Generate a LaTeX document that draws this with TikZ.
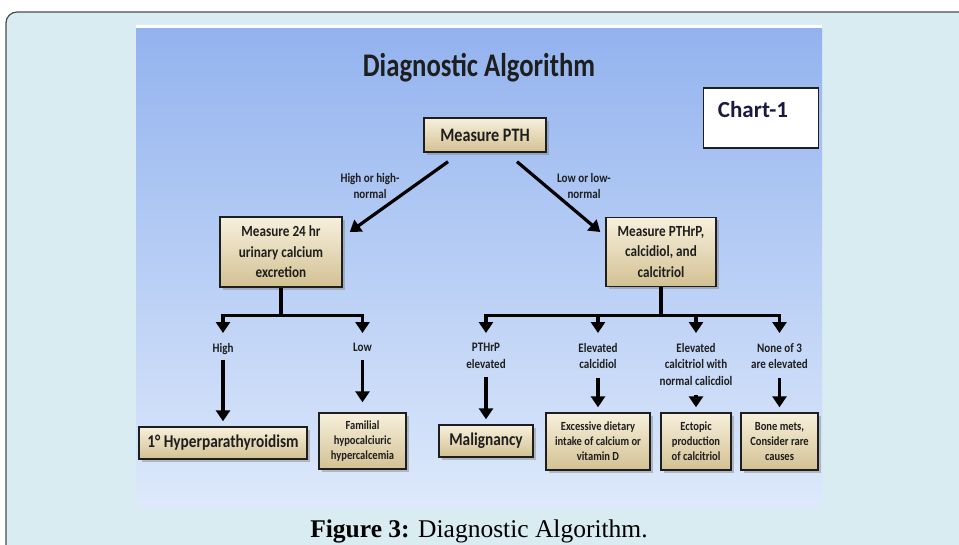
\documentclass[tikz,border=0pt]{standalone}
\usepackage{fontspec}
\usetikzlibrary{arrows.meta,shadows}
\newfontfamily\chartfont[FakeStretch=0.85]{Carlito}
\newfontfamily\titlefont[FakeStretch=0.81]{Carlito}
\newfontfamily\tagfont{Carlito}
\newfontfamily\capfont{Liberation Serif}
\definecolor{framebg}{HTML}{D8ECF2}
\definecolor{skytop}{HTML}{93B3EF}
\definecolor{skybot}{HTML}{DDE9FB}
\definecolor{boxtop}{HTML}{F7F0DC}
\definecolor{boxbot}{HTML}{D3C193}
\definecolor{ink}{HTML}{1E1E1E}
\definecolor{navy}{HTML}{1A1A40}
\begin{document}
\begin{tikzpicture}[x=1pt, y=-1pt,
      every node/.style={text=ink, align=center, inner sep=0pt},
      stepbox/.style={draw=ink, line width=1.4pt, top color=boxtop, bottom color=boxbot,
        drop shadow={shadow xshift=2.5pt, shadow yshift=-2.5pt, opacity=0.45}},
      bigtext/.style={font=\chartfont\bfseries\fontsize{15.5}{20.5}\selectfont},
      smalltext/.style={font=\chartfont\bfseries\fontsize{12.4}{15}\selectfont},
      endtext/.style={font=\chartfont\bfseries\fontsize{18}{22}\selectfont},
      cond/.style={anchor=north, font=\chartfont\bfseries\fontsize{13}{16.5}\selectfont},
      arr/.style={line width=3.2pt, -{Triangle[width=14pt,length=11pt]}},
      fork/.style={line width=3.2pt}]
      \useasboundingbox (0,0) rectangle (959,544);
      \clip (0,0) rectangle (959,544);
      \draw[fill=framebg, draw=ink!80, line width=1.2pt, rounded corners=11pt] (6,12) rectangle (990,580);
      \fill[white] (136,25) rectangle (822,28);
      \shade[top color=skytop, bottom color=skybot] (136,28) rectangle (822,507);

      \node[anchor=base, font=\titlefont\bfseries\fontsize{33}{38}\selectfont] (title) at (479,76) {Diagnostic Algorithm};
      \node[draw=ink, line width=1.5pt, fill=white, minimum width=115pt, minimum height=60pt] (chartbox) at (761,118) {};
      \node[anchor=west, text=navy, font=\tagfont\bfseries\fontsize{23}{27}\selectfont] (chart) at ([xshift=15pt, yshift=-22pt]chartbox.north west) {Chart-1};

      \node[stepbox, font=\chartfont\bfseries\fontsize{19}{23}\selectfont, minimum width=122pt, minimum height=34pt] (pth) at (485,135) {Measure PTH};
      \node[stepbox, bigtext, minimum width=122pt, minimum height=70pt] (urine) at (281,252) {Measure 24 hr\\urinary calcium\\excretion};
      \node[stepbox, bigtext, minimum width=110pt, minimum height=69pt] (rel) at (661,252) {Measure PTHrP,\\calcidiol, and\\calcitriol};

      \node[cond] (hi) at (370,173) {High or high-\\normal};
      \node[cond] (lo) at (584,173) {Low or low-\\normal};

      \node[cond] (high) at (223,343) {High};
      \node[cond] (low) at (362.5,343) {Low};
      \node[cond] (pe) at (486,343) {PTHrP\\elevated};
      \node[cond] (ecd) at (598,343) {Elevated\\calcidiol};
      \node[cond] (ect) at (696,343) {Elevated\\calcitriol with\\normal calicdiol};
      \node[cond] (none) at (779.5,343) {None of 3\\are elevated};

      \node[stepbox, endtext, minimum width=168pt, minimum height=32pt] (hyper) at (223,443) {1° Hyperparathyroidism};
      \node[stepbox, smalltext, minimum width=87pt, minimum height=56pt] (fhh) at (362.5,441) {Familial\\hypocalciuric\\hypercalcemia};
      \node[stepbox, endtext, minimum width=94pt, minimum height=32pt] (malig) at (486,441) {Malignancy};
      \node[stepbox, smalltext, minimum width=104pt, minimum height=57pt] (diet) at (598,441.5) {Excessive dietary\\intake of calcium or\\vitamin D};
      \node[stepbox, smalltext, minimum width=70pt, minimum height=57pt] (ecto) at (696,441.5) {Ectopic\\production\\of calcitriol};
      \node[stepbox, smalltext, minimum width=77pt, minimum height=57pt] (bone) at (779.5,441.5) {Bone mets,\\Consider rare\\causes};

      \node[anchor=base, font=\capfont\fontsize{25.5}{29}\selectfont, text=black] (caption) at (479,537) {\textbf{Figure 3:} Diagnostic Algorithm.};

      \draw[arr] ([xshift=-37pt, yshift=-9pt]pth.south) -- ([xshift=7pt, yshift=20pt]urine.east);
      \draw[arr] ([xshift=32pt, yshift=-9pt]pth.south) -- ([xshift=-5pt, yshift=20pt]rel.west);

      \coordinate (ufork) at ([yshift=-28pt]urine.south);
      \coordinate (rfork) at ([yshift=-28pt]rel.south);
      \draw[fork] (urine.south) -- (ufork);
      \draw[fork] (rel.south) -- (rfork);
      \foreach \c in {high,low}
        \draw[arr, shorten >=10pt] (ufork) -| (\c.north);
      \foreach \c in {pe,ecd,ect,none}
        \draw[arr, shorten >=10pt] (rfork) -| (\c.north);

      \draw[arr, shorten <=5pt, shorten >=5pt] (high.south) -- (hyper.north);
      \draw[arr, shorten <=8pt, shorten >=10pt] (low.south) -- (fhh.north);
      \draw[arr, shorten <=9pt, shorten >=5pt] (pe.south) -- (malig.north);
      \draw[arr, shorten <=9pt, shorten >=5pt] (ecd.south) -- (diet.north);
      \draw[arr, shorten <=9pt, shorten >=5pt] (ect.south) -- (ecto.north);
      \draw[arr, shorten <=9pt, shorten >=5pt] (none.south) -- (bone.north);
    \end{tikzpicture}
\end{document}
